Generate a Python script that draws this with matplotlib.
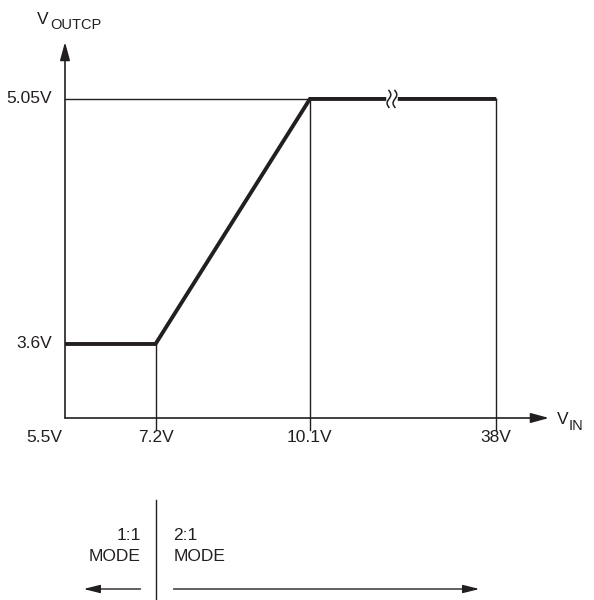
import numpy as np
import matplotlib.pyplot as plt

plt.rcParams['font.family'] = ['Liberation Sans Narrow', 'Liberation Sans', 'DejaVu Sans']

# schematic values
vin_labels = ['5.5V', '7.2V', '10.1V', '38V']
vin_pos = [5.5, 7.2, 10.1, 13.6]          # 38V drawn after an axis break
vout_labels = ['3.6V', '5.05V']
vout_vals = [3.6, 5.05]
curve_x = [5.5, 7.2, 10.1, 13.6]
curve_y = [3.6, 3.6, 5.05, 5.05]
break_x = 11.64

ink = '#231f20'
fs = 12.5
fig = plt.figure(figsize=(5.94, 6.0), dpi=100)
ax = fig.add_axes([65 / 594, (600 - 418) / 600, (549 - 65) / 594, (418 - 42) / 600])
x0, x1 = 5.5, 14.59
y0, y1 = 3.162, 5.387
ax.set_xlim(x0, x1)
ax.set_ylim(y0, y1)
ax.axis('off')

# axes with arrows
ax.annotate('', xy=(x1, y0), xytext=(x0, y0), annotation_clip=False,
            arrowprops=dict(arrowstyle='-|>,head_length=1.1,head_width=0.3', color=ink, lw=1.2, shrinkA=0, shrinkB=0))
ax.annotate('', xy=(x0, y1), xytext=(x0, y0), annotation_clip=False,
            arrowprops=dict(arrowstyle='-|>,head_length=1.1,head_width=0.3', color=ink, lw=1.2, shrinkA=0, shrinkB=0))

# guide lines
below = y0 - 12 / 169
ax.plot([x0, vin_pos[3]], [vout_vals[1]] * 2, color=ink, lw=1.0, clip_on=False)
ax.plot([vin_pos[1]] * 2, [vout_vals[0], below], color=ink, lw=1.0, clip_on=False)
ax.plot([vin_pos[2]] * 2, [vout_vals[1], below], color=ink, lw=1.0, clip_on=False)
ax.plot([vin_pos[3]] * 2, [vout_vals[1], below], color=ink, lw=1.0, clip_on=False)

# transfer curve
ax.plot(curve_x, curve_y, color=ink, lw=2.8, solid_joinstyle='miter', solid_capstyle='butt', zorder=3)

# axis break
gap = 3.0 / 53.26
ax.plot([break_x - gap, break_x + gap], [5.05, 5.05], color='white', lw=4, zorder=4)
t = np.linspace(-1, 1, 40)
for dx in (-gap, gap):
    ax.plot(break_x + dx + 0.035 * np.sin(np.pi * t), 5.05 + 0.05 * t, color=ink, lw=1.1, zorder=5)

# tick labels
for lab, xp in zip(vin_labels, vin_pos):
    if lab == '5.5V':
        ax.text(xp - 3 / 53.26, y0 - 20 / 169, lab, ha='right', va='center', fontsize=fs, color=ink)
    else:
        ax.text(xp, y0 - 20 / 169, lab, ha='center', va='center', fontsize=fs, color=ink)
for lab, yv in zip(vout_labels, vout_vals):
    ax.text(x0 - 13 / 53.26, yv, lab, ha='right', va='center', fontsize=fs, color=ink)

# axis titles
fig.text(37 / 594, 1 - 19 / 600, 'V', ha='left', va='center', fontsize=fs, color=ink)
fig.text(50 / 594, 1 - 25 / 600, 'OUTCP', ha='left', va='center', fontsize=10.5, color=ink)
fig.text(557 / 594, 1 - 420 / 600, 'V', ha='left', va='center', fontsize=fs, color=ink)
fig.text(569 / 594, 1 - 426 / 600, 'IN', ha='left', va='center', fontsize=10.5, color=ink)

# mode annotation
fy = lambda p: 1 - p / 600
ax.plot([vin_pos[1]] * 2, [y0 - 82 / 169, y0 - 182 / 169], color=ink, lw=1.0, clip_on=False)
ax.annotate('1:1\nMODE', xy=(vin_pos[1] - 15 / 53.26, fy(546)), xycoords=('data', 'figure fraction'),
            ha='right', va='center', fontsize=fs, color=ink, linespacing=1.45)
ax.annotate('2:1\nMODE', xy=(vin_pos[1] + 18 / 53.26, fy(546)), xycoords=('data', 'figure fraction'),
            ha='left', va='center', fontsize=fs, color=ink, linespacing=1.45)
ax.annotate('', xy=(vin_pos[1] - 72 / 53.26, fy(589)), xytext=(vin_pos[1] - 15 / 53.26, fy(589)),
            xycoords=('data', 'figure fraction'), textcoords=('data', 'figure fraction'),
            arrowprops=dict(arrowstyle='-|>,head_length=1.0,head_width=0.25', color=ink, lw=1.0, shrinkA=0, shrinkB=0))
ax.annotate('', xy=(vin_pos[1] + 324 / 53.26, fy(589)), xytext=(vin_pos[1] + 18 / 53.26, fy(589)),
            xycoords=('data', 'figure fraction'), textcoords=('data', 'figure fraction'),
            arrowprops=dict(arrowstyle='-|>,head_length=1.0,head_width=0.25', color=ink, lw=1.0, shrinkA=0, shrinkB=0))

fig.savefig('out.png', dpi=100)
